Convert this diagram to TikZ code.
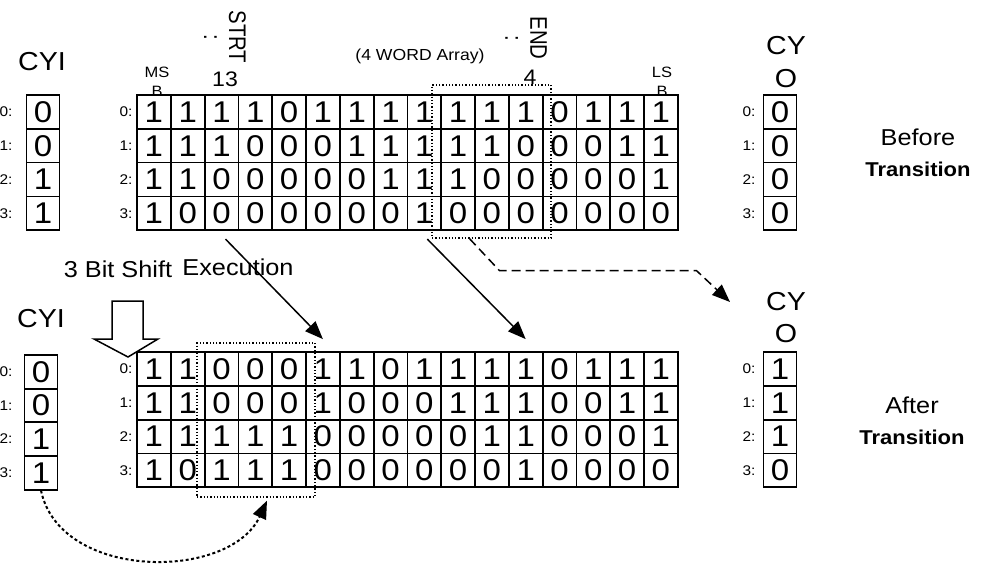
\documentclass[tikz,border=0pt]{standalone}
\usepackage{fontspec}
\setmainfont{Liberation Sans}[FakeStretch=1.1]
\newfontfamily\narrowfont{Liberation Sans}[FakeStretch=0.85]
\usetikzlibrary{arrows.meta, positioning}
\newcommand\fsz[1]{\fontsize{#1}{#1}\selectfont}

\begin{document}
\begin{tikzpicture}[x=1pt, y=-1pt,
    cell/.style={draw, line width=1.8pt, minimum width=33.8pt, minimum height=33.8pt, inner sep=0pt, font=\fsz{30}},
    carry/.style={cell, minimum width=33pt},
    idx/.style={inner sep=0pt, font=\fsz{14}},
    lbl/.style={inner sep=0pt, align=center},
    selbox/.style={draw, dotted, line width=1.3pt, inner sep=0pt},
    arrow/.style={-{Triangle[length=18pt, width=14pt]}, line width=1.5pt}
  ]
  \useasboundingbox (0,0) rectangle (981,564);

  % before transition
  \foreach \bits [count=\r from 0] in {{1,1,1,1,0,1,1,1,1,1,1,1,0,1,1,1},{1,1,1,0,0,0,1,1,1,1,1,0,0,0,1,1},{1,1,0,0,0,0,0,1,1,1,0,0,0,0,0,1},{1,0,0,0,0,0,0,0,1,0,0,0,0,0,0,0}}
    \foreach \b [count=\c from 0] in \bits
      \node[cell] (old-\r-\c) at ({153.9+33.8*\c},{111.9+33.8*\r}) {\b};
  \foreach \b [count=\r from 0] in {0,0,1,1}
    \node[carry] (cyiold-\r) at (43,{111.9+33.8*\r}) {\b};
  \foreach \b [count=\r from 0] in {0,0,0,0}
    \node[carry] (cyoold-\r) at (780,{111.9+33.8*\r}) {\b};
  \foreach \r in {0,...,3} {
    \node[idx, left=3.5pt of old-\r-0] (oldidx-\r) {\r:};
    \node[idx, left=13pt of cyiold-\r] (cyioldidx-\r) {\r:};
    \node[idx, left=7pt of cyoold-\r] (cyooldidx-\r) {\r:};
  }

  % after transition
  \foreach \bits [count=\r from 0] in {{1,1,0,0,0,1,1,0,1,1,1,1,0,1,1,1},{1,1,0,0,0,1,0,0,0,1,1,1,0,0,1,1},{1,1,1,1,1,0,0,0,0,0,1,1,0,0,0,1},{1,0,1,1,1,0,0,0,0,0,0,1,0,0,0,0}}
    \foreach \b [count=\c from 0] in \bits
      \node[cell] (new-\r-\c) at ({153.9+33.8*\c},{368.9+33.8*\r}) {\b};
  \foreach \b [count=\r from 0] in {0,0,1,1}
    \node[carry] (cyinew-\r) at (41,{371.9+33.6*\r}) {\b};
  \foreach \b [count=\r from 0] in {1,1,1,0}
    \node[carry] (cyonew-\r) at (780,{368.9+33.8*\r}) {\b};
  \foreach \r in {0,...,3} {
    \node[idx, left=3.5pt of new-\r-0] (newidx-\r) {\r:};
    \node[idx, left=11pt of cyinew-\r] (cyinewidx-\r) {\r:};
    \node[idx, left=7pt of cyonew-\r] (cyonewidx-\r) {\r:};
  }

  % labels
  \node[lbl, font=\fsz{26}] (cyioldlbl) at (42,62) {CYI};
  \node[lbl, font=\fsz{26}] (cyinewlbl) at (41,319) {CYI};
  \node[lbl, font=\fsz{26}] (cyooldlbl) at (786,62) {CY\\[7pt]O};
  \node[lbl, font=\fsz{26}] (cyonewlbl) at (786,318) {CY\\[6pt]O};
  \node[lbl, font=\fsz{15}] (msb) at (157,82) {MS\\[4pt]B};
  \node[lbl, font=\fsz{15}] (lsb) at (662,82) {LS\\[4pt]B};
  \node[lbl, rotate=-90, font=\narrowfont\fsz{24}] (strt) at (225,37) {STRT\\[1pt]:};
  \node[lbl, rotate=-90, font=\narrowfont\fsz{24}] (endlbl) at (526,38) {END\\[1pt]:};
  \node[lbl, font=\fsz{21}] (strtval) at (225,79) {13};
  \node[lbl, font=\fsz{21}] (endval) at (530,77) {4};
  \node[lbl, font=\fsz{16}] (array) at (420,56) {(4 WORD Array)};
  \node[lbl, font=\fsz{23}] (shift) at (118,269) {3 Bit Shift};
  \node[lbl, font=\fsz{23}] (exec) at (238,267) {Execution};
  \node[lbl, font=\fsz{23}] (before) at (918,153) {Before\\[8pt]{\bfseries\fsz{20}Transition}};
  \node[lbl, font=\fsz{23}] (after) at (912,421) {After\\[8pt]{\bfseries\fsz{20}Transition}};

  % selected bits
  \node[selbox, minimum width=119pt, minimum height=153pt] (endsel) at (491.5,161.5) {};
  \node[selbox, minimum width=118pt, minimum height=154pt] (shiftsel) at (256,420) {};

  % shift marker
  \draw[line width=1.5pt] (112,301) -- (143,301) -- (143,339) -- (158,339) -- (128,357) -- (94,339) -- (112,339) -- cycle;

  \coordinate (cyoin) at (730,302);
  \draw[arrow] ([xshift=4pt, yshift=-8pt]old-3-2.south) -- ([yshift=12pt]new-0-5.north);
  \draw[arrow] ([xshift=3pt, yshift=-8pt]old-3-8.south) -- ([yshift=12pt]new-0-11.north);
  \draw[arrow, dash pattern=on 9pt off 5pt] ([xshift=-22pt]endsel.south) -- ++(30,32) -- ++(197,0) -- (cyoin);
  \draw[arrow, line width=2pt, dash pattern=on 3pt off 2.5pt] (cyinew-3.south) .. controls (60,581) and (230,581) .. ([xshift=11pt, yshift=-3pt]shiftsel.south);
\end{tikzpicture}
\end{document}
